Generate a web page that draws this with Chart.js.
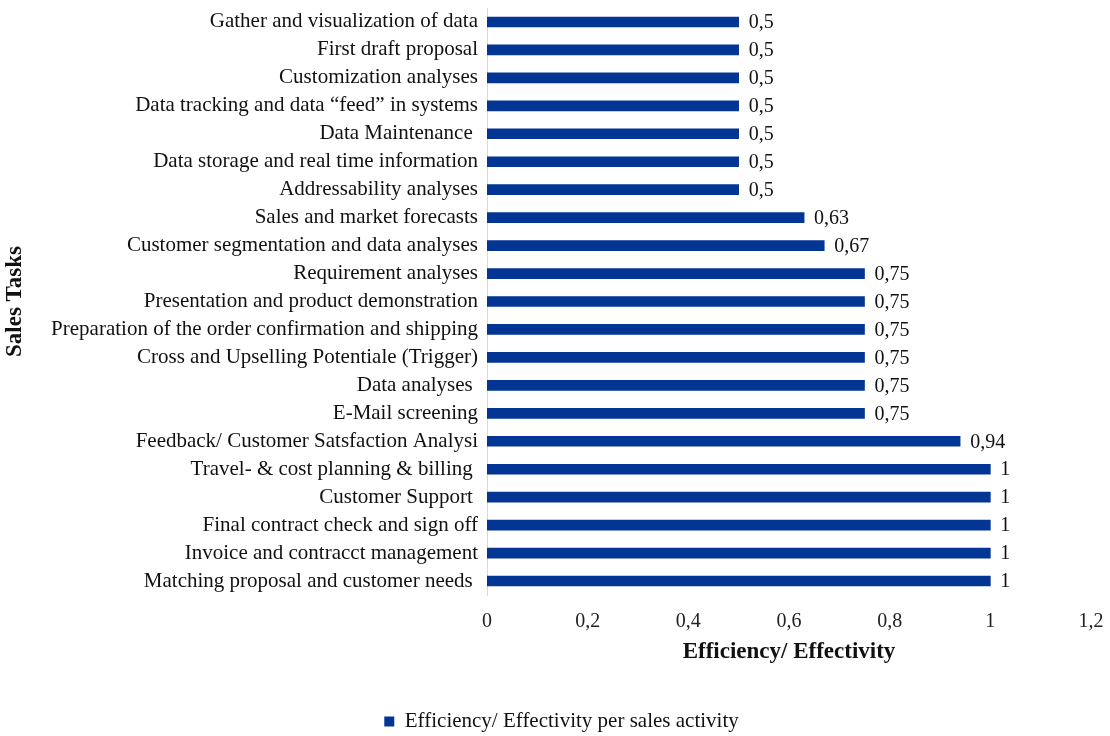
<!DOCTYPE html>
<html>
<head>
<meta charset="utf-8">
<script src="https://cdn.jsdelivr.net/npm/chart.js@4/dist/chart.umd.min.js"></script>
<style>
  html, body { margin: 0; padding: 0; background: #fff; }
  #wrap { width: 1110px; height: 736px; position: relative; }
</style>
</head>
<body>
<div id="wrap"><canvas id="c" width="1110" height="736"></canvas></div>
<script>
// Sales tasks, top to bottom
const tasks = [
  "Gather and visualization of data",
  "First draft proposal",
  "Customization analyses",
  "Data tracking and data \u201cfeed\u201d in systems",
  "Data Maintenance ",
  "Data storage and real time information",
  "Addressability analyses",
  "Sales and market forecasts",
  "Customer segmentation and data analyses",
  "Requirement analyses",
  "Presentation and product demonstration",
  "Preparation of the order confirmation and shipping",
  "Cross and Upselling Potentiale (Trigger)",
  "Data analyses ",
  "E-Mail screening",
  "Feedback/ Customer Satsfaction Analysi",
  "Travel- & cost planning & billing ",
  "Customer Support ",
  "Final contract check and sign off",
  "Invoice and contracct management",
  "Matching proposal and customer needs "
];

// Efficiency/ effectivity score per task
const efficiency = [
  0.5, 0.5, 0.5, 0.5, 0.5, 0.5, 0.5,
  0.63, 0.67,
  0.75, 0.75, 0.75, 0.75, 0.75, 0.75,
  0.94,
  1, 1, 1, 1, 1
];

const xTicks = [0, 0.2, 0.4, 0.6, 0.8, 1, 1.2];

const seriesName = "Efficiency/ Effectivity per sales activity";
const xTitle = "Efficiency/ Effectivity";
const yTitle = "Sales Tasks";

const FONT = "'Liberation Serif', 'Times New Roman', serif";
const BAR = "#023594";

const fmt = v => String(Math.round(v * 100) / 100).replace(".", ",");

// value labels at the end of each bar
const valueLabels = {
  id: "valueLabels",
  afterDatasetsDraw(chart) {
    const ctx = chart.ctx;
    const meta = chart.getDatasetMeta(0);
    ctx.save();
    ctx.font = "20px " + FONT;
    ctx.fillStyle = "#111";
    ctx.textAlign = "left";
    ctx.textBaseline = "middle";
    meta.data.forEach((bar, i) => {
      ctx.fillText(fmt(efficiency[i]), bar.x + 10, bar.y + 1);
    });
    ctx.restore();
  }
};

// nudge the legend a little to the right of centre
const legendShift = {
  id: "legendShift",
  afterLayout(chart) {
    if (chart.legend) {
      chart.legend.left += 16;
      chart.legend.right += 16;
    }
  }
};

new Chart(document.getElementById("c"), {
  type: "bar",
  data: {
    labels: tasks,
    datasets: [{
      label: seriesName,
      data: efficiency,
      backgroundColor: BAR,
      borderWidth: 0,
      barThickness: 10
    }]
  },
  options: {
    indexAxis: "y",
    responsive: false,
    animation: false,
    layout: { padding: { top: 8, right: 19, bottom: -6, left: 0 } },
    plugins: {
      legend: {
        position: "bottom",
        labels: {
          font: { family: FONT, size: 21 },
          color: "#111",
          boxWidth: 10,
          boxHeight: 10,
          padding: 10
        }
      },
      tooltip: { enabled: false }
    },
    scales: {
      x: {
        min: 0,
        max: 1.2,
        afterBuildTicks(scale) { scale.ticks = xTicks.map(v => ({ value: v })); },
        afterFit(scale) {
          scale.height = 106;
          scale.paddingLeft = 0;
          scale.paddingRight = 0;
        },
        grid: { display: false, drawTicks: false },
        border: { display: false },
        ticks: {
          font: { family: FONT, size: 20 },
          color: "#222",
          padding: 15,
          maxRotation: 0,
          callback: v => fmt(v)
        },
        title: {
          display: true,
          text: xTitle,
          font: { family: FONT, size: 23, weight: "bold" },
          color: "#111",
          padding: { top: 0, bottom: 35 }
        }
      },
      y: {
        afterFit(scale) {
          scale.width = 487;
          scale.paddingTop = 0;
          scale.paddingBottom = 0;
        },
        grid: { display: false, drawTicks: false },
        border: { display: true, color: "#d9d9d9", width: 1 },
        ticks: {
          font: { family: FONT, size: 21 },
          color: "#111",
          padding: 9,
          autoSkip: false
        },
        title: {
          display: true,
          text: yTitle,
          font: { family: FONT, size: 23, weight: "bold" },
          color: "#111",
          padding: { top: 1, bottom: 0 }
        }
      }
    }
  },
  plugins: [valueLabels, legendShift]
});
</script>
</body>
</html>
